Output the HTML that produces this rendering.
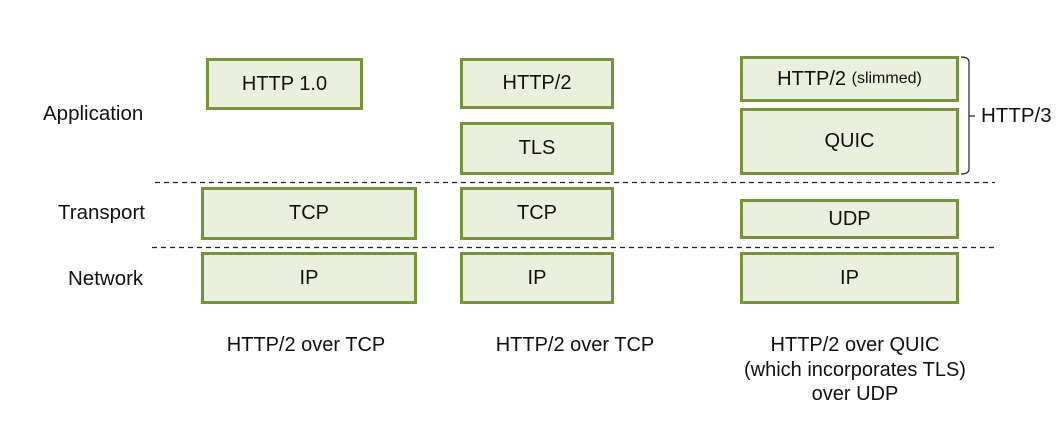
<!DOCTYPE html>
<html><head><style>
body{margin:0;width:1060px;height:433px;background:#fff;position:relative;font-family:"Liberation Sans",sans-serif;color:#111;overflow:hidden}
.b{position:absolute;box-sizing:border-box;background:#EBEFDE;border:3px solid #77933C;display:flex;align-items:center;justify-content:center;font-size:20px}
.t{position:absolute;font-size:20.5px;white-space:nowrap}
.c{position:absolute;font-size:20px;text-align:center;line-height:24.5px;width:300px}
</style></head><body>
<div class="b" style="left:206px;top:58px;width:157px;height:52px">HTTP 1.0</div>
<div class="b" style="left:460px;top:58px;width:154px;height:51px">HTTP/2</div>
<div class="b" style="left:460px;top:122px;width:154px;height:53px">TLS</div>
<div class="b" style="left:740px;top:56px;width:219px;height:46px">HTTP/2&nbsp;<span style="font-size:16px">(slimmed)</span></div>
<div class="b" style="left:740px;top:108px;width:219px;height:67px">QUIC</div>
<div class="b" style="left:201px;top:187px;width:216px;height:53px">TCP</div>
<div class="b" style="left:460px;top:187px;width:154px;height:53px">TCP</div>
<div class="b" style="left:740px;top:199px;width:219px;height:40px">UDP</div>
<div class="b" style="left:201px;top:252px;width:216px;height:52px">IP</div>
<div class="b" style="left:460px;top:252px;width:154px;height:52px">IP</div>
<div class="b" style="left:740px;top:252px;width:219px;height:52px">IP</div>
<svg style="position:absolute;left:0;top:0" width="1060" height="433">
<line x1="155" y1="182.5" x2="995" y2="182.5" stroke="#222" stroke-width="1.2" stroke-dasharray="5,4"/>
<line x1="152" y1="247.5" x2="995" y2="247.5" stroke="#222" stroke-width="1.2" stroke-dasharray="5,4"/>
<path d="M961 57 Q969 57 969 62 V169 Q969 174 961 174 M969 116 H975" fill="none" stroke="#222" stroke-width="1.2"/></svg>
<div class="t" style="left:981px;top:104px">HTTP/3</div>
<div class="t" style="left:43px;top:102px">Application</div>
<div class="t" style="left:58px;top:201px">Transport</div>
<div class="t" style="left:68px;top:267px">Network</div>
<div class="c" style="left:156px;top:333px">HTTP/2 over TCP</div>
<div class="c" style="left:425px;top:333px">HTTP/2 over TCP</div>
<div class="c" style="left:705px;top:333px">HTTP/2 over QUIC<br>(which incorporates TLS)<br>over UDP</div>
</body></html>
